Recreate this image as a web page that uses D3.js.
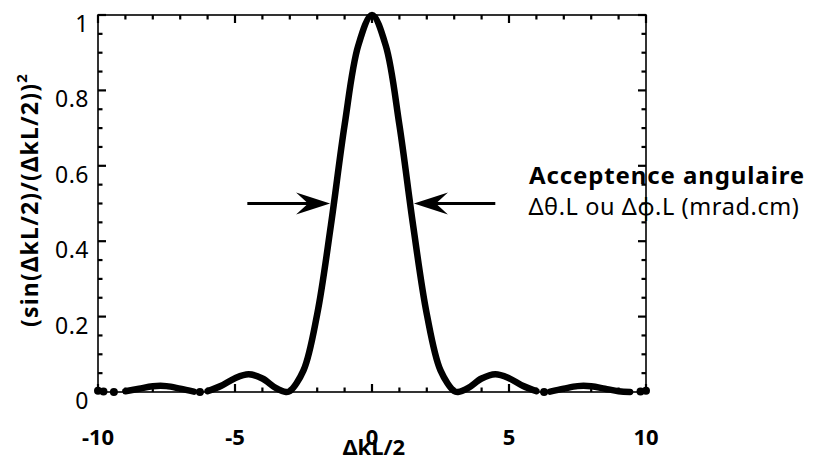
<!DOCTYPE html>
<html><head><meta charset="utf-8">
<script src="https://cdn.jsdelivr.net/npm/d3@7"></script>
<style>
body{margin:0;background:#fff;}
text{font-family:"Comic Sans MS","Noto Sans",sans-serif;fill:#000;}
</style></head>
<body><svg id="c" width="816" height="459"></svg>
<script>
// Data: (sin(ΔkL/2)/(ΔkL/2))^2
const xValues = [-10,-9.8,-9.42,-9,-8.5,-8,-7.5,-7,-6.5,-6.28,-6,-5.5,-5,-4.5,-4,-3.5,-3.14,-3,-2.5,-2,-1.5,-1,-0.5,0,0.5,1,1.5,2,2.5,3,3.14,3.5,4,4.5,5,5.5,6,6.28,6.5,7,7.5,8,8.5,9,9.42,9.8,10];
const yValues = [0.003,0.001,0,0.002,0.0088,0.0153,0.0156,0.0088,0.0011,0,0.0022,0.0165,0.0368,0.0472,0.0358,0.0101,0,0.0022,0.0573,0.2067,0.4422,0.7081,0.9194,1,0.9194,0.7081,0.4422,0.2067,0.0573,0.0022,0,0.0101,0.0358,0.0472,0.0368,0.0165,0.0022,0,0.0011,0.0088,0.0156,0.0153,0.0088,0.002,0,0.001,0.003];
// gaps in the plotted curve (x intervals with no line)
const gapStarts = [-9.95,-6.4,6.2,9.55];
const gapEnds   = [-9.3,-6.15,6.45,9.95];
const xTickMajor = [-10,-5,0,5,10];
const yTickMajor = [0,0.2,0.4,0.6,0.8,1];
const yTickLabels = ["0","0.2","0.4","0.6","0.8","1"];
const arrowY = 0.5;
const arrowLeft = [-4.55,-1.53];   // tail, tip
const arrowRight = [4.5,1.53];     // tail, tip

const svg = d3.select("#c");
const L=98, R=646, T=15, B=392;
const x = d3.scaleLinear().domain([-10,10]).range([L,R]);
const y = d3.scaleLinear().domain([0,1]).range([B,T]);

// frame
svg.append("rect").attr("x",L).attr("y",T).attr("width",R-L).attr("height",B-T)
  .attr("fill","none").attr("stroke","#000").attr("stroke-width",1.6);

const xMinor = d3.range(-10,10.01,1);
const yMinor = d3.range(0,1.001,0.05);
const isMajX = v => xTickMajor.some(m=>Math.abs(m-v)<1e-6);
const isMajY = v => yTickMajor.some(m=>Math.abs(m-v)<1e-6);

xMinor.forEach(v=>{
  const len = isMajX(v)?8:4.5;
  svg.append("line").attr("x1",x(v)).attr("x2",x(v)).attr("y1",B).attr("y2",B-len).attr("stroke","#000").attr("stroke-width",2.2);
  svg.append("line").attr("x1",x(v)).attr("x2",x(v)).attr("y1",T).attr("y2",T+len).attr("stroke","#000").attr("stroke-width",2.2);
});
yMinor.forEach(v=>{
  const len = isMajY(v)?8:4.5;
  svg.append("line").attr("x1",L).attr("x2",L+len).attr("y1",y(v)).attr("y2",y(v)).attr("stroke","#000").attr("stroke-width",2.2);
  svg.append("line").attr("x1",R).attr("x2",R-len).attr("y1",y(v)).attr("y2",y(v)).attr("stroke","#000").attr("stroke-width",2.2);
});

// tick labels
svg.append("g").selectAll("text").data(xTickMajor).join("text")
  .attr("x",d=>x(d)).attr("y",445).attr("text-anchor","middle")
  .attr("font-size",22).attr("font-weight","bold").text(d=>d);
svg.append("g").selectAll("text").data(yTickMajor).join("text")
  .attr("x",89).attr("y",d=>y(d)+17).attr("text-anchor","end")
  .attr("font-size",23).attr("letter-spacing",0.5).text((d,i)=>yTickLabels[i]);

// axis titles
svg.append("text").attr("x",374).attr("y",455).attr("text-anchor","middle")
  .attr("font-size",22).attr("font-weight","bold").text("ΔkL/2");
const yt = svg.append("text").attr("transform","translate(38,200) rotate(-90)")
  .attr("text-anchor","middle").attr("font-size",23).attr("font-weight","bold").attr("letter-spacing",1.2);
yt.append("tspan").text("(sin(ΔkL/2)/(ΔkL/2))");
yt.append("tspan").attr("dy",-11).attr("font-size",15).text("2");

// curve segments
const pts = xValues.map((v,i)=>[v,yValues[i]]);
const segs=[]; let cur=[];
pts.forEach((p,i)=>{
  if(i>0){
    const a=pts[i-1][0], b=p[0];
    const crosses = gapStarts.some((s,k)=> a<gapEnds[k] && b>s);
    if(crosses){ if(cur.length) segs.push(cur); cur=[]; }
  }
  cur.push(p);
});
if(cur.length) segs.push(cur);
const line = d3.line().x(d=>x(d[0])).y(d=>y(d[1])).curve(d3.curveCatmullRom);
segs.forEach(s=>{
  if(s.length===1){
    svg.append("circle").attr("cx",x(s[0][0])).attr("cy",y(s[0][1])).attr("r",4).attr("fill","#000");
  } else {
    svg.append("path").attr("d",line(s)).attr("fill","none").attr("stroke","#000")
      .attr("stroke-width",6.5).attr("stroke-linecap","round").attr("stroke-linejoin","round");
  }
});

// arrows
function arrow(tail, tip){
  const y0=y(arrowY), x0=x(tail), x1=x(tip);
  const dir = Math.sign(x1-x0);
  svg.append("line").attr("x1",x0).attr("x2",x1-dir*8).attr("y1",y0).attr("y2",y0)
    .attr("stroke","#000").attr("stroke-width",3.2);
  const back = x1-dir*34, notch = x1-dir*22;
  svg.append("path").attr("d",`M${x1},${y0} L${back},${y0-11} L${notch},${y0} L${back},${y0+11} Z`)
    .attr("fill","#000");
}
arrow(arrowLeft[0],arrowLeft[1]);
arrow(arrowRight[0],arrowRight[1]);

// annotation
svg.append("text").attr("x",667).attr("y",184).attr("text-anchor","middle")
  .attr("font-size",24).attr("font-weight","bold").attr("letter-spacing",0.9).text("Acceptence angulaire");
svg.append("text").attr("x",664).attr("y",215).attr("text-anchor","middle")
  .attr("font-size",23.5).attr("letter-spacing",0.6).text("Δθ.L ou Δφ.L (mrad.cm)");
</script></body></html>
